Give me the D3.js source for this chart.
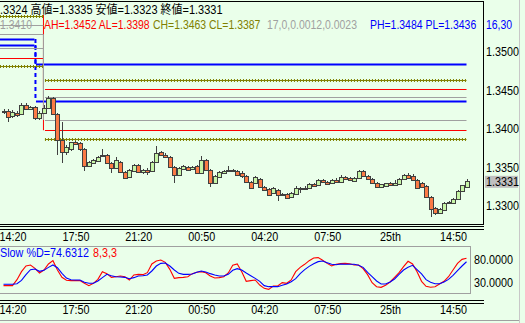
<!DOCTYPE html>
<html>
<head>
<meta charset="utf-8">
<script src="https://cdn.jsdelivr.net/npm/d3@7"></script>
<style>
body { margin: 0; background: #eaffea; }
svg { display: block; font-family: "Liberation Sans", Arial, "Noto Sans CJK JP", sans-serif; font-size: 12px; }
</style>
</head>
<body>
<svg id="chart" width="525" height="323"></svg>
<script>
// 15 minute bars, oldest first
const opens = [
  1.34229, 1.34229, 1.34152, 1.34203, 1.34190, 1.34307, 1.34255, 1.34281, 1.34126, 1.34203,
  1.34268, 1.34398, 1.34190, 1.33853, 1.33697, 1.33736, 1.33827, 1.33814, 1.33736, 1.33515,
  1.33554, 1.33580, 1.33658, 1.33658, 1.33554, 1.33489, 1.33567, 1.33437, 1.33372, 1.33450,
  1.33528, 1.33437, 1.33463, 1.33450, 1.33567, 1.33697, 1.33658, 1.33632, 1.33502, 1.33398,
  1.33476, 1.33502, 1.33476, 1.33515, 1.33424, 1.33593, 1.33463, 1.33294, 1.33372, 1.33424,
  1.33450, 1.33463, 1.33450, 1.33424, 1.33385, 1.33307, 1.33294, 1.33346, 1.33242, 1.33216,
  1.33164, 1.33203, 1.33151, 1.33151, 1.33112, 1.33151, 1.33229, 1.33216, 1.33229, 1.33281,
  1.33268, 1.33333, 1.33307, 1.33294, 1.33333, 1.33307, 1.33372, 1.33359, 1.33320, 1.33359,
  1.33450, 1.33385, 1.33346, 1.33294, 1.33242, 1.33255, 1.33294, 1.33268, 1.33281, 1.33346,
  1.33398, 1.33385, 1.33333, 1.33294, 1.33255, 1.33112, 1.32970, 1.32905, 1.32944, 1.33047,
  1.33034, 1.33086, 1.33190, 1.3324
];
const highs = [
  1.34255, 1.34255, 1.34242, 1.34229, 1.34333, 1.34333, 1.34294, 1.34294, 1.34229, 1.34307,
  1.34424, 1.34411, 1.34203, 1.34087, 1.33788, 1.33827, 1.33840, 1.33827, 1.33749, 1.33580,
  1.33606, 1.33645, 1.33736, 1.33671, 1.33567, 1.33632, 1.33580, 1.33450, 1.33476, 1.33541,
  1.33541, 1.33476, 1.33489, 1.33580, 1.33775, 1.33710, 1.33684, 1.33645, 1.33515, 1.33502,
  1.33528, 1.33515, 1.33515, 1.33528, 1.33645, 1.33606, 1.33476, 1.33398, 1.33450, 1.33463,
  1.33515, 1.33476, 1.33463, 1.33450, 1.33398, 1.33320, 1.33385, 1.33359, 1.33255, 1.33229,
  1.33242, 1.33216, 1.33164, 1.33164, 1.33177, 1.33255, 1.33242, 1.33255, 1.33294, 1.33294,
  1.33346, 1.33346, 1.33320, 1.33346, 1.33359, 1.33398, 1.33385, 1.33372, 1.33372, 1.33463,
  1.33463, 1.33398, 1.33359, 1.33307, 1.33281, 1.33294, 1.33307, 1.33333, 1.33359, 1.33411,
  1.33424, 1.33411, 1.33346, 1.33307, 1.33268, 1.33125, 1.32983, 1.32970, 1.33047, 1.33060,
  1.33099, 1.33203, 1.33268, 1.3335
];
const lows = [
  1.34190, 1.34087, 1.34139, 1.34152, 1.34177, 1.34242, 1.34242, 1.34113, 1.34113, 1.34190,
  1.34255, 1.34177, 1.33658, 1.33554, 1.33658, 1.33710, 1.33788, 1.33710, 1.33450, 1.33502,
  1.33541, 1.33567, 1.33632, 1.33541, 1.33424, 1.33476, 1.33424, 1.33346, 1.33359, 1.33437,
  1.33424, 1.33411, 1.33398, 1.33437, 1.33554, 1.33645, 1.33619, 1.33489, 1.33294, 1.33385,
  1.33463, 1.33450, 1.33463, 1.33411, 1.33411, 1.33450, 1.33242, 1.33281, 1.33359, 1.33411,
  1.33437, 1.33437, 1.33385, 1.33359, 1.33294, 1.33216, 1.33281, 1.33229, 1.33190, 1.33125,
  1.33151, 1.33060, 1.33125, 1.33086, 1.33099, 1.33138, 1.33164, 1.33203, 1.33216, 1.33242,
  1.33255, 1.33294, 1.33268, 1.33281, 1.33294, 1.33294, 1.33333, 1.33320, 1.33307, 1.33346,
  1.33372, 1.33333, 1.33281, 1.33229, 1.33229, 1.33242, 1.33255, 1.33255, 1.33268, 1.33333,
  1.33346, 1.33320, 1.33216, 1.33229, 1.33099, 1.32853, 1.32879, 1.32892, 1.32931, 1.33021,
  1.33021, 1.33073, 1.33177, 1.3323
];
const closes = [
  1.34216, 1.34139, 1.34216, 1.34165, 1.34307, 1.34255, 1.34281, 1.34126, 1.34203, 1.34268,
  1.34398, 1.34190, 1.33853, 1.33697, 1.33762, 1.33827, 1.33801, 1.33736, 1.33515, 1.33567,
  1.33593, 1.33632, 1.33645, 1.33554, 1.33489, 1.33593, 1.33437, 1.33359, 1.33463, 1.33528,
  1.33437, 1.33463, 1.33437, 1.33567, 1.33684, 1.33658, 1.33632, 1.33502, 1.33398, 1.33489,
  1.33515, 1.33463, 1.33502, 1.33424, 1.33593, 1.33463, 1.33294, 1.33385, 1.33437, 1.33450,
  1.33463, 1.33450, 1.33398, 1.33385, 1.33307, 1.33229, 1.33372, 1.33242, 1.33203, 1.33138,
  1.33229, 1.33138, 1.33138, 1.33099, 1.33164, 1.33229, 1.33216, 1.33229, 1.33281, 1.33255,
  1.33333, 1.33307, 1.33281, 1.33333, 1.33307, 1.33372, 1.33346, 1.33333, 1.33359, 1.33450,
  1.33385, 1.33346, 1.33294, 1.33242, 1.33281, 1.33294, 1.33268, 1.33294, 1.33346, 1.33398,
  1.33359, 1.33333, 1.33229, 1.33242, 1.33112, 1.32957, 1.32905, 1.32957, 1.33034, 1.33034,
  1.33086, 1.33190, 1.33268, 1.3331
];

// slow stochastic 8,3,3
const stochK = [
  22.7, 22.7, 22.7, 35.7, 53.1, 65.4, 67.6, 60.4, 50.2, 56.7,
  69.8, 77.0, 56.7, 40.8, 34.3, 33.6, 33.6, 33.6, 27.8, 22.7,
  27.8, 36.4, 53.1, 48.8, 40.8, 42.2, 43.7, 42.2, 35.0, 45.9,
  47.3, 46.6, 50.9, 69.8, 76.3, 78.5, 73.4, 58.2, 38.6, 40.1,
  40.8, 42.2, 48.8, 51.7, 53.1, 50.9, 43.7, 39.3, 40.1, 42.2,
  50.2, 66.9, 69.8, 53.1, 32.1, 33.6, 35.0, 24.1, 16.9, 14.7,
  21.9, 21.9, 29.2, 27.8, 35.0, 53.1, 62.5, 69.1, 77.0, 82.8,
  83.6, 77.8, 71.2, 65.4, 69.1, 70.5, 71.2, 70.5, 67.6, 67.6,
  59.6, 46.6, 29.2, 20.5, 19.1, 23.4, 30.7, 40.8, 50.9, 64.0,
  75.6, 69.8, 53.1, 32.1, 21.2, 19.1, 20.5, 26.3, 32.1, 42.2,
  56.7, 71.2, 79.9, 82.1
];
const stochD = [
  25.6, 25.6, 25.6, 27.0, 34.3, 46.6, 57.5, 58.9, 53.8, 56.0,
  62.5, 67.6, 61.8, 49.5, 39.3, 35.7, 35.0, 35.0, 29.9, 27.8,
  27.8, 32.8, 40.1, 47.3, 44.4, 42.2, 41.5, 40.8, 37.9, 40.1,
  43.7, 44.4, 45.9, 54.6, 65.4, 71.2, 71.9, 65.4, 56.7, 49.5,
  47.3, 47.3, 48.1, 51.7, 54.6, 52.4, 48.8, 45.9, 43.7, 43.7,
  47.3, 56.0, 59.6, 56.7, 50.2, 44.4, 38.6, 32.1, 22.7, 20.5,
  20.5, 20.5, 23.4, 26.3, 31.4, 37.9, 48.8, 57.5, 64.7, 70.5,
  74.9, 76.3, 72.7, 69.1, 68.3, 69.8, 69.1, 69.1, 69.1, 66.9,
  62.5, 51.7, 42.2, 32.8, 26.3, 26.3, 30.7, 37.2, 47.3, 56.7,
  62.5, 66.9, 57.5, 48.1, 35.7, 29.9, 27.0, 27.0, 30.7, 36.4,
  45.1, 55.3, 65.4, 74.6312
];

const timeTicks = [2, 16, 30, 44, 58, 72, 86, 100];
const timeLabels = ['14:20', '17:50', '21:20', '00:50', '04:20', '07:50', '25th', '14:50'];
const priceTicks = [1.33, 1.335, 1.34, 1.345, 1.35];
const stochTicks = [30, 80];

// band levels: value before and after the reset bar
const levelNames = ['PH', 'PL', 'AH', 'AL', 'CH', 'CL', 'G0', 'G1', 'G2'];
const levelPrev = [1.35165, 1.35087, 1.35541, 1.34914, 1.35463, 1.34814, 1.35346, 1.35225, 1.35044];
const levelCur = [1.3484, 1.3436, 1.3452, 1.3398, 1.3463, 1.3387, null, 1.34407, 1.34113];
const levelReset = [7, 7, 9, 9, 9, 9, 9, 9, 9];

const svg = d3.select('#chart');
const bg = '#eaffea';
const lastIdx = closes.length - 1;
const fmt = d3.format('.4f');

const x = d3.scaleLinear().domain([0, lastIdx]).range([3.5, 466.5]);
const y = d3.scaleLinear().domain([1.33, 1.35]).range([205.7, 51.7]);
const ys = d3.scaleLinear().domain([30, 80]).range([282.3, 259.3]);

svg.append('defs').append('clipPath').attr('id', 'mainClip')
    .append('rect').attr('x', 0).attr('y', 2).attr('width', 483).attr('height', 222);

const main = svg.append('g').attr('clip-path', 'url(#mainClip)');

// level lines
function levelStyle(name) {
    if (name[0] === 'P') return {color: '#0000ff', width: 2};
    if (name[0] === 'A') return {color: '#ff0000', width: 1};
    if (name[0] === 'C') return {color: '#808000', width: 1};
    return {color: '#a0a0a0', width: 1};
}

const lvl = main.append('g');
levelNames.forEach((name, k) => {
    const st = levelStyle(name);
    const xb = x(levelReset[k]);
    const segs = [[0, xb - 0.5, levelPrev[k]]];
    if (levelCur[k] !== null) segs.push([xb + 1, x(lastIdx), levelCur[k]]);
    segs.forEach(s => {
        const yy = Math.round(y(s[2])) + 0.5;
        lvl.append('line').attr('x1', s[0]).attr('x2', s[1]).attr('y1', yy).attr('y2', yy)
            .attr('stroke', st.color).attr('stroke-width', st.width);
        if (name[0] === 'C') {
            lvl.append('line').attr('x1', s[0]).attr('x2', s[1] + 1).attr('y1', yy).attr('y2', yy)
                .attr('stroke', st.color).attr('stroke-width', 3).attr('stroke-dasharray', '1,2');
        }
    });
    if (levelCur[k] !== null && name[0] !== 'C') {
        const vx = name[0] === 'P' ? xb + 0.5 : xb - 0.5;
        lvl.append('line').attr('x1', vx).attr('x2', vx)
            .attr('y1', y(levelPrev[k])).attr('y2', y(levelCur[k]))
            .attr('stroke', st.color).attr('stroke-width', st.width)
            .attr('stroke-dasharray', name[0] === 'P' ? '4,3' : null);
    }
});

// candles
const bars = d3.range(closes.length);
const cg = main.append('g').attr('shape-rendering', 'crispEdges');
cg.selectAll('line.wick').data(bars).join('line')
    .attr('class', 'wick')
    .attr('x1', i => Math.round(x(i)) + 0.5).attr('x2', i => Math.round(x(i)) + 0.5)
    .attr('y1', i => y(highs[i])).attr('y2', i => y(lows[i]))
    .attr('stroke', '#404040');
cg.selectAll('rect.body').data(bars).join('rect')
    .attr('class', 'body')
    .attr('x', i => Math.round(x(i)) - 1.5)
    .attr('width', 4)
    .attr('y', i => y(Math.max(opens[i], closes[i])))
    .attr('height', i => Math.max(1, Math.abs(y(opens[i]) - y(closes[i]))))
    .attr('fill', i => closes[i] < opens[i] ? '#fb7a45' : '#c6f5a6')
    .attr('stroke', '#404040');

// frame of the price panel
const frame = svg.append('g').attr('stroke', '#000').attr('shape-rendering', 'crispEdges');
frame.append('line').attr('x1', 0).attr('x2', 484).attr('y1', 1.5).attr('y2', 1.5);
frame.append('line').attr('x1', 483.5).attr('x2', 483.5).attr('y1', 1.5).attr('y2', 224);
[224.5, 226.5, 229.5].forEach(v => frame.append('line').attr('x1', 0).attr('x2', 484).attr('y1', v).attr('y2', v));

// price axis
const yAxis = svg.append('g').attr('transform', 'translate(484,0)')
    .call(d3.axisRight(y).tickValues(priceTicks).tickFormat(fmt).tickSize(0).tickPadding(2));
yAxis.select('.domain').remove();
yAxis.attr('font-family', null).attr('font-size', null);
yAxis.selectAll('text').attr('fill', '#000');

const last = closes[lastIdx];
svg.append('rect').attr('x', 485).attr('y', y(last) - 6).attr('width', 33).attr('height', 12).attr('fill', '#c0c0c0');
svg.append('text').attr('x', 486).attr('y', y(last)).attr('dy', '0.36em').text(fmt(last));

// time axes
function timeAxis(yPos) {
    const g = svg.append('g').attr('transform', `translate(0,${yPos})`)
        .call(d3.axisBottom(x).tickValues(timeTicks).tickFormat((d, i) => timeLabels[i]).tickSize(0).tickPadding(0));
    g.select('.domain').remove();
    g.attr('font-family', null).attr('font-size', null);
    g.selectAll('text').attr('fill', '#000').attr('dy', '0.71em');
}
timeAxis(232);
timeAxis(305);

// stochastic panel
svg.append('rect').attr('x', -1).attr('y', 246.5).attr('width', 471.5).attr('height', 47)
    .attr('fill', 'none').attr('stroke', '#a0a0a0');
const stLine = arr => d3.line().x((d, i) => x(i)).y(d => ys(d))(arr);
svg.append('path').attr('d', stLine(stochK)).attr('fill', 'none').attr('stroke', '#ff0000').attr('stroke-width', 1.1);
svg.append('path').attr('d', stLine(stochD)).attr('fill', 'none').attr('stroke', '#0000ff').attr('stroke-width', 1.1);

const sAxis = svg.append('g').attr('transform', 'translate(472,0)')
    .call(d3.axisRight(ys).tickValues(stochTicks).tickFormat(fmt).tickSize(0).tickPadding(2));
sAxis.select('.domain').remove();
sAxis.attr('font-family', null).attr('font-size', null);
sAxis.selectAll('text').attr('fill', '#000');

svg.append('text').attr('x', 0).attr('y', 257).attr('fill', '#0000ff')
    .text('Slow %D=' + fmt(stochD[lastIdx]));
svg.append('text').attr('x', 93).attr('y', 257).attr('fill', '#ff0000').text('8,3,3');

const lower = svg.append('g').attr('stroke', '#000').attr('shape-rendering', 'crispEdges');
[300.5, 303.5].forEach(v => lower.append('line').attr('x1', 0).attr('x2', 484).attr('y1', v).attr('y2', v));
svg.append('line').attr('x1', 0).attr('x2', 520).attr('y1', 320.5).attr('y2', 320.5)
    .attr('stroke', '#a0a0a0').attr('shape-rendering', 'crispEdges');
svg.append('line').attr('x1', 519.5).attr('x2', 519.5).attr('y1', 0).attr('y2', 323)
    .attr('stroke', '#c8c8c8').attr('shape-rendering', 'crispEdges');

// the original screen font is narrower than Liberation Sans: squeeze every label
const probe = svg.append('text').text('1.3500');
const squeeze = 33 / probe.node().getComputedTextLength();
probe.remove();
function narrow(sel, f) {
    sel.each(function () {
        const w = this.getComputedTextLength();
        d3.select(this).attr('textLength', w * f).attr('lengthAdjust', 'spacingAndGlyphs');
    });
}
narrow(svg.selectAll('text'), squeeze);

// header texts
svg.append('rect').attr('x', 0).attr('y', 2).attr('width', 224).attr('height', 13).attr('fill', bg);
const head = svg.append('text').attr('x', 222.5).attr('y', 14).attr('text-anchor', 'end')
    .text('始値=' + fmt(opens[lastIdx]) + ' 高値=' + fmt(highs[lastIdx]) +
          ' 安値=' + fmt(lows[lastIdx]) + ' 終値=' + fmt(closes[lastIdx]));
// only ".3324 高値=..." is visible on screen, starting at the left edge
const hn = head.node();
const shown = hn.getSubStringLength(4, hn.getNumberOfChars() - 4);
narrow(head, 222.5 / shown);

const row2 = [
    [0, '#a0a0a0', '1.3410'],
    [44, '#ff0000', `AH=${fmt(levelCur[2])} AL=${fmt(levelCur[3])}`],
    [153, '#808000', `CH=${fmt(levelCur[4])} CL=${fmt(levelCur[5])}`],
    [267, '#a0a0a0', '17,0,0.0012,0.0023'],
    [370, '#0000ff', `PH=${fmt(levelCur[0])} PL=${fmt(levelCur[1])}`],
    [486, '#0000ff', '16,30']
];
const r2 = svg.selectAll('text.row2').data(row2).join('text')
    .attr('class', 'row2')
    .attr('x', r => r[0]).attr('y', 28.5).attr('fill', r => r[1]).text(r => r[2]);
narrow(r2, 0.87);
</script>
</body>
</html>
